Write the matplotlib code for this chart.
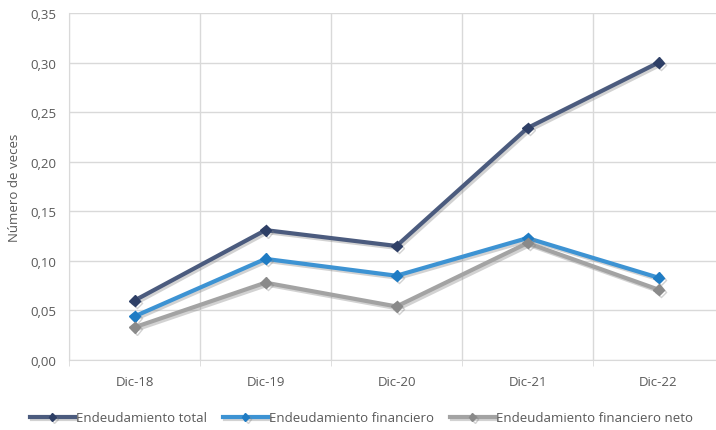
import matplotlib.pyplot as plt
import matplotlib.patheffects as pe
from matplotlib.ticker import MultipleLocator, FuncFormatter

periodos = ['Dic-18', 'Dic-19', 'Dic-20', 'Dic-21', 'Dic-22']
end_total = [0.060, 0.131, 0.115, 0.234, 0.300]
end_financiero = [0.044, 0.102, 0.085, 0.123, 0.083]
end_fin_neto = [0.033, 0.078, 0.054, 0.118, 0.071]

series = [
    ('Endeudamiento total', end_total, '#4B5B7E', '#2E3F66'),
    ('Endeudamiento financiero', end_financiero, '#3D93D3', '#1F7CC4'),
    ('Endeudamiento financiero neto', end_fin_neto, '#A3A3A3', '#8A8A8A'),
]

plt.rcParams['font.family'] = ['Open Sans', 'DejaVu Sans']
txt = '#595959'
grid = '#D9D9D9'

fig = plt.figure(figsize=(7.16, 4.31), dpi=100)
ax = fig.add_axes([69 / 716, 70 / 431, 655 / 716, 347 / 431])

x = list(range(len(periodos)))
shadow = [pe.SimpleLineShadow(offset=(1.5, -1.5), shadow_color='gray', alpha=0.35), pe.Normal()]
for nombre, vals, col, mcol in series:
    ax.plot(x, vals, color=col, lw=3, marker='D', ms=5.5, mfc=mcol, mec=mcol,
            label=nombre, path_effects=shadow, solid_joinstyle='miter', zorder=3)

ax.set_xlim(-0.5, len(periodos) - 0.5)
ax.set_ylim(0, 0.35)
ax.yaxis.set_major_locator(MultipleLocator(0.05))
ax.yaxis.set_major_formatter(FuncFormatter(lambda v, p: f'{v:.2f}'.replace('.', ',')))
ax.set_xticks(x)
ax.set_xticklabels(periodos)
ax.set_xticks([i - 0.5 for i in range(len(periodos) + 1)], minor=True)

ax.grid(axis='y', color=grid, lw=1)
ax.grid(axis='x', which='minor', color=grid, lw=1)
ax.set_axisbelow(True)
for s in ['top', 'right']:
    ax.spines[s].set_visible(False)
for s in ['left', 'bottom']:
    ax.spines[s].set_color(grid)
ax.tick_params(axis='x', which='major', length=0, pad=11, labelsize=9.5, labelcolor=txt)
ax.tick_params(axis='x', which='minor', length=4, color=grid)
ax.tick_params(axis='y', length=0, pad=9, labelsize=9.5, labelcolor=txt)
ax.set_ylabel('Número de veces', fontsize=9.5, color=txt, labelpad=7)

fig.legend(loc='center', bbox_to_anchor=(0.505, 1 - 419 / 431), ncol=3, frameon=False,
           fontsize=9.5, labelcolor=txt, handlelength=3.4, handletextpad=0.1,
           columnspacing=1.2, markerscale=0.7)

fig.savefig('out.png', dpi=100)
